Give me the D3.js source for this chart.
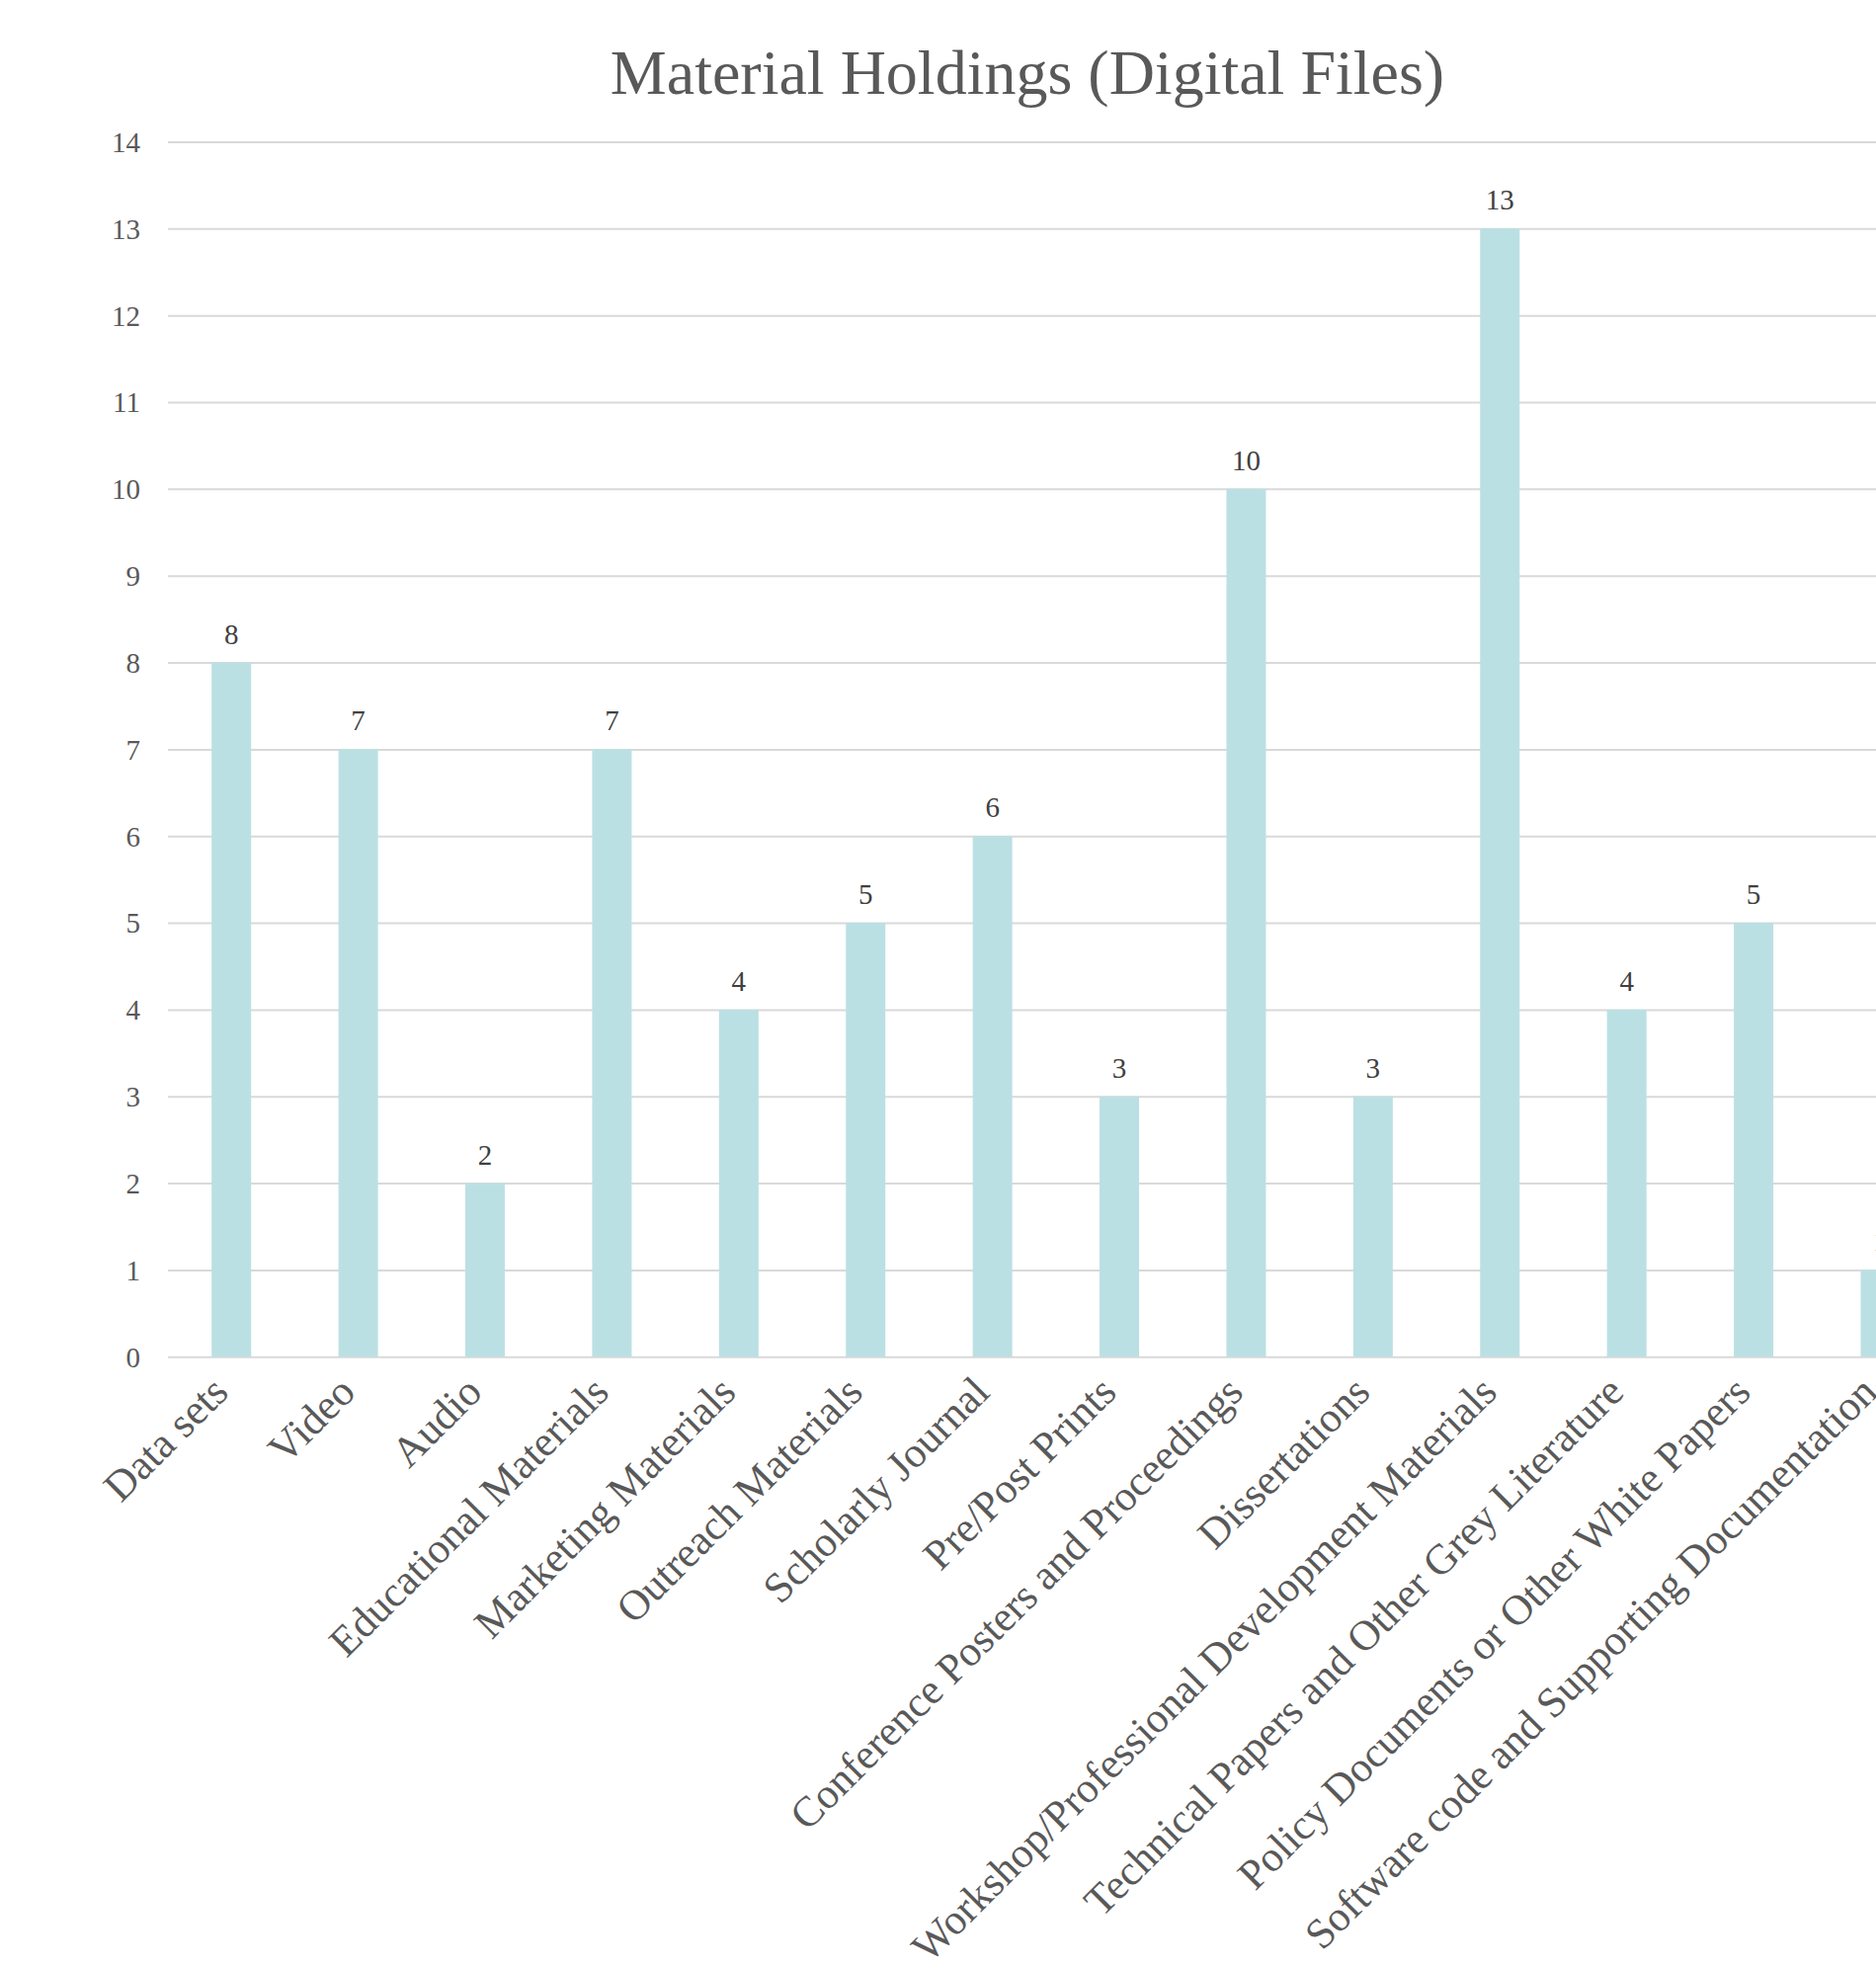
<!DOCTYPE html>
<html>
<head>
<meta charset="utf-8">
<script src="https://cdn.jsdelivr.net/npm/d3@7"></script>
<style>
  html, body { margin: 0; padding: 0; background: #ffffff; overflow: hidden; }
  svg { display: block; }
</style>
</head>
<body>
<svg id="chart" width="1899" height="1992"></svg>
<script>
const categories = [
  "Data sets", "Video", "Audio", "Educational Materials", "Marketing Materials",
  "Outreach Materials", "Scholarly Journal", "Pre/Post Prints",
  "Conference Posters and Proceedings", "Dissertations",
  "Workshop/Professional Development Materials",
  "Technical Papers and Other Grey Literature",
  "Policy Documents or Other White Papers",
  "Software code and Supporting Documentation"
];
const values = [8, 7, 2, 7, 4, 5, 6, 3, 10, 3, 13, 4, 5, 1];
const yTicks = [0, 1, 2, 3, 4, 5, 6, 7, 8, 9, 10, 11, 12, 13, 14];
const title = "Material Holdings (Digital Files)";

const svg = d3.select("#chart");
const font = "'Liberation Serif', 'Times New Roman', serif";

const plotLeft = 170, plotRight = 1967.7, plotTop = 143.5, plotBottom = 1373.3;

const x = d3.scaleBand()
  .domain(categories)
  .range([plotLeft, plotRight])
  .paddingInner(0.6885)
  .paddingOuter(0.6885 / 2);

const y = d3.scaleLinear().domain([0, 14]).range([plotBottom, plotTop]);

// Title
svg.append("text")
  .attr("x", 1040).attr("y", 95)
  .attr("text-anchor", "middle")
  .attr("font-family", font).attr("font-size", 64)
  .attr("fill", "#595959")
  .text(title);

// Gridlines + y labels via axis
const yAxis = d3.axisLeft(y).tickValues(yTicks).tickSize(-(plotRight - plotLeft)).tickPadding(28);
const gy = svg.append("g").attr("transform", `translate(${plotLeft},0)`).call(yAxis);
gy.select(".domain").remove();
gy.selectAll(".tick line").attr("stroke", "#d9d9d9").attr("stroke-width", 2);
gy.selectAll(".tick text")
  .attr("font-family", font).attr("font-size", 29)
  .attr("fill", "#595959").attr("dy", "0.34em");

// Bars
svg.append("g").selectAll("rect").data(values).join("rect")
  .attr("x", (d, i) => x(categories[i]))
  .attr("y", d => y(d))
  .attr("width", x.bandwidth())
  .attr("height", d => y(0) - y(d))
  .attr("fill", "#bbe0e3");

// Data labels
svg.append("g").selectAll("text").data(values).join("text")
  .attr("x", (d, i) => x(categories[i]) + x.bandwidth() / 2)
  .attr("y", d => y(d) - 19)
  .attr("text-anchor", "middle")
  .attr("font-family", font).attr("font-size", 29)
  .attr("fill", "#404040")
  .text(d => d);

// X labels (rotated)
const xAxis = d3.axisBottom(x).tickSize(0).tickPadding(0);
const gx = svg.append("g").attr("transform", `translate(0,${plotBottom})`).call(xAxis);
gx.select(".domain").remove();
gx.selectAll(".tick text")
  .attr("font-family", font).attr("font-size", 43)
  .attr("fill", "#595959")
  .attr("text-anchor", "end")
  .attr("dy", null)
  .attr("transform", "translate(-1,38) rotate(-45)");
</script>
</body>
</html>
